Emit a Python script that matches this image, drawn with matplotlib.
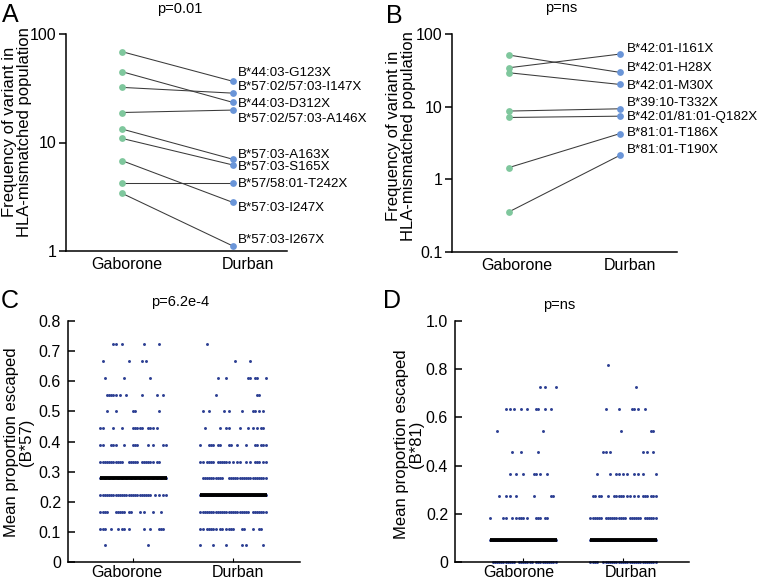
import matplotlib
matplotlib.use('Agg')
import matplotlib.pyplot as plt
from matplotlib.ticker import FixedLocator, NullLocator, FixedFormatter

plt.rcParams['font.family'] = ['Liberation Sans', 'DejaVu Sans']

groups = ['Gaborone', 'Durban']

# ---------------- Panel A data ----------------
variants_A = ['B*44:03-G123X', 'B*57:02/57:03-I147X', 'B*44:03-D312X',
              'B*57:02/57:03-A146X', 'B*57:03-A163X', 'B*57:03-S165X',
              'B*57/58:01-T242X', 'B*57:03-I247X', 'B*57:03-I267X']
gab_A = [68.7, 32.2, 44.9, 18.9, 13.3, 10.9, 4.2, 6.8, 3.4]
dur_A = [36.6, 28.5, 23.4, 19.9, 7.0, 6.2, 4.2, 2.8, 1.11]
label_y_A = [44, 32.2, 22.4, 16.3, 7.75, 5.96, 4.18, 2.51, 1.27]

# ---------------- Panel B data ----------------
variants_B = ['B*42:01-I161X', 'B*42:01-H28X', 'B*42:01-M30X', 'B*39:10-T332X',
              'B*42:01/81:01-Q182X', 'B*81:01-T186X', 'B*81:01-T190X']
gab_B = [34.3, 51.3, 29.3, 8.7, 7.1, 1.45, 0.356]
dur_B = [53, 29.6, 20.2, 9.35, 7.4, 4.27, 2.15]
label_y_B = [61.4, 33.6, 19.2, 11.3, 7.1, 4.28, 2.52]

# ---------------- Panel C data (levels k/18) ----------------
levels_C = [13, 12, 11, 10, 9, 8, 7, 6, 5, 4, 3, 2, 1]
denom_C = 18
slots_C_gab = [
    [6, 7, 10, 20, 27],
    [1, 13, 19, 21],
    [2, 11, 23],
    [3, 4, 5, 6, 7, 9, 12, 19, 26, 29],
    [3, 7, 15, 16, 27],
    [0, 1, 6, 10, 15, 16, 17, 18, 19, 22, 23, 24, 26],
    [0, 1, 5, 6, 7, 11, 15, 16, 17, 22, 24, 29, 30],
    [0, 1, 2, 3, 4, 5, 6, 7, 8, 9, 10, 13, 14, 15, 16, 17, 19, 20, 21, 22, 23, 24, 26, 27],
    [0, 2, 4, 6, 8, 10, 12, 14, 16, 18, 20, 22, 24, 26, 28, 30],
    [0, 1, 2, 3, 4, 5, 6, 7, 8, 9, 10, 11, 12, 13, 14, 15, 16, 17, 18, 19, 20, 21, 22, 23, 25, 27, 29, 30],
    [0, 1, 2, 3, 7, 8, 9, 10, 11, 13, 14, 18, 20, 24, 28],
    [0, 1, 2, 5, 8, 10, 11, 13, 20, 23, 27, 28, 29],
    [2, 22],
]
slots_C_dur = [
    [3],
    [16, 23],
    [8, 12, 22, 23, 25, 26, 30],
    [7, 26, 27],
    [1, 4, 11, 13, 19, 24, 25, 27, 29],
    [2, 9, 12, 13, 18, 22, 24, 26, 28, 29],
    [0, 4, 5, 6, 8, 9, 13, 14, 17, 21, 25, 26, 28, 29, 30],
    [0, 1, 3, 4, 5, 6, 8, 9, 10, 11, 12, 13, 15, 17, 18, 21, 23, 25, 26, 27, 29, 30],
    [1, 2, 3, 4, 5, 6, 7, 8, 9, 10, 13, 14, 15, 16, 17, 18, 19, 20, 21, 22, 23, 24, 25, 26, 27, 28, 29, 30],
    list(range(0, 31)),
    list(range(0, 23)) + list(range(24, 31)),
    [0, 1, 3, 4, 5, 6, 7, 9, 10, 12, 13, 14, 15, 19, 20, 24, 27, 28],
    [0, 6, 12, 19, 21, 29],
]
means_C = [5 / 18, 4 / 18]

# ---------------- Panel D data (levels k/11) ----------------
levels_D_gab = [8, 7, 6, 5, 4, 3, 2, 1, 0]
slots_D_gab = [
    [23, 25, 30],
    [7, 9, 11, 14, 17, 21, 22, 25, 28],
    [3, 24],
    [10, 14, 22],
    [9, 12, 15, 20, 21, 23, 26],
    [4, 7, 9, 12, 20, 28, 29],
    [0, 6, 7, 10, 12, 13, 14, 15, 17, 21, 22, 23, 25, 26],
    list(range(0, 31)),
    [s for s in range(1, 31) if s not in (12, 20)],
]
levels_D_dur = [9, 8, 7, 6, 5, 4, 3, 2, 1, 0]
slots_D_dur = [
    [8],
    [21],
    [7, 13, 19, 20, 22, 25],
    [14, 28, 29],
    [6, 7, 9, 24, 26, 29],
    [3, 9, 12, 13, 15, 17, 20, 22, 24, 30],
    [1, 2, 4, 5, 8, 11, 12, 13, 14, 15, 17, 18, 20, 22, 24, 25, 26, 28, 29, 30],
    list(range(0, 6)) + list(range(7, 17)) + list(range(18, 24)) + list(range(25, 31)),
    list(range(0, 31)),
    [s for s in range(0, 31) if s not in (4, 5)],
]
denom_D = 11
means_D = [1 / 11, 1 / 11]

# ---------------- Figure ----------------
W, H = 768, 580
fig = plt.figure(figsize=(W / 100, H / 100), dpi=100)

def px_axes(l, r, t, b):
    return fig.add_axes([l / W, 1 - b / H, (r - l) / W, (b - t) / H])

GREEN = '#7fc79d'
BLUE = '#6a95d8'
DOT = '#2c3f93'
TICK_FS = 11.5
LW = 1.1

def style(ax):
    for s in ['top', 'right']:
        ax.spines[s].set_visible(False)
    for s in ['left', 'bottom']:
        ax.spines[s].set_linewidth(LW)

def paired(ax, gab, dur, names, label_y, lab_x, xticks, ylim, yticks, yticklabels):
    for g, d in zip(gab, dur):
        ax.plot([1, 2], [g, d], color='#3a3a3a', lw=0.75, zorder=1)
    ax.scatter([1] * len(gab), gab, s=24, color=GREEN, zorder=3, linewidths=0)
    ax.scatter([2] * len(dur), dur, s=24, color=BLUE, zorder=3, linewidths=0)
    for n, y in zip(names, label_y):
        ax.text(lab_x, y, n, fontsize=9.6, va='center', ha='left', clip_on=False)
    ax.set_yscale('log')
    ax.set_ylim(*ylim)
    ax.yaxis.set_major_locator(FixedLocator(yticks))
    ax.yaxis.set_major_formatter(FixedFormatter(yticklabels))
    ax.yaxis.set_minor_locator(NullLocator())
    ax.set_xticks(xticks)
    ax.set_xticklabels(groups, fontsize=TICK_FS)
    ax.tick_params(axis='x', length=0, pad=4)
    ax.tick_params(axis='y', direction='out', length=5, width=LW, labelsize=TICK_FS, pad=2)
    style(ax)

# Panel A
axA = px_axes(66, 287, 34, 251)
axA.set_xlim(0.495, 2.486)
paired(axA, gab_A, dur_A, variants_A, label_y_A, 2.045, [1.045, 2.13],
       (1, 100), [1, 10, 100], ['1', '10', '100'])

# Panel B
axB = px_axes(452, 677, 34, 252)
axB.set_xlim(0.49, 2.51)
paired(axB, gab_B, dur_B, variants_B, label_y_B, 2.063, [1.07, 2.09],
       (0.1, 100), [0.1, 1, 10, 100], ['0.1', '1', '10', '100'])

SLOT = 0.0217

def dots(ax, center, levels, slots, denom):
    xs, ys = [], []
    for k, row in zip(levels, slots):
        for s in row:
            xs.append(center + (s - 15) * SLOT)
            ys.append(k / denom)
    ax.scatter(xs, ys, s=4.5, color=DOT, linewidths=0, zorder=2, clip_on=False)

def escape_panel(ax, means, label_x, ylim, yticks, yticklabels):
    for c, m in zip([1, 2], means):
        ax.hlines(m, c - 0.335, c + 0.335, color='black', lw=2.8, zorder=3)
    ax.set_ylim(*ylim)
    ax.set_yticks(yticks)
    ax.set_yticklabels(yticklabels)
    ax.set_xticks(label_x)
    ax.set_xticklabels(groups, fontsize=TICK_FS)
    ax.xaxis.set_minor_locator(FixedLocator([1, 2]))
    ax.tick_params(axis='x', which='major', length=0, pad=2)
    ax.tick_params(axis='x', which='minor', direction='in', length=3, width=0.8)
    ax.tick_params(axis='y', direction='in', length=5, width=LW, labelsize=TICK_FS, pad=5)
    style(ax)

# Panel C
axC = px_axes(68, 300, 321, 562)
axC.set_xlim(0.35, 2.67)
dots(axC, 1, levels_C, slots_C_gab, denom_C)
dots(axC, 2, levels_C, slots_C_dur, denom_C)
escape_panel(axC, means_C, [0.94, 2.05], (0, 0.8),
             [0, 0.1, 0.2, 0.3, 0.4, 0.5, 0.6, 0.7, 0.8],
             ['0', '0.1', '0.2', '0.3', '0.4', '0.5', '0.6', '0.7', '0.8'])

# Panel D
axD = px_axes(455, 689, 321, 562)
axD.set_xlim(0.32, 2.66)
dots(axD, 1, levels_D_gab, slots_D_gab, denom_D)
dots(axD, 2, levels_D_dur, slots_D_dur, denom_D)
escape_panel(axD, means_D, [0.96, 2.08], (0, 1.0),
             [0, 0.2, 0.4, 0.6, 0.8, 1.0],
             ['0', '0.2', '0.4', '0.6', '0.8', '1.0'])

# y labels
def ylabel(x, y, txt):
    fig.text(x / W, 1 - y / H, txt, rotation=90, ha='center', va='center',
             fontsize=12, linespacing=0.95, multialignment='center')

ylabel(17, 132, 'Frequency of variant in\nHLA-mismatched population')
ylabel(401, 136, 'Frequency of variant in\nHLA-mismatched population')
ylabel(19, 442, 'Mean proportion escaped\n(B*57)')
ylabel(409, 444, 'Mean proportion escaped\n(B*81)')

# titles
for x, y, t in [(180, 9, 'p=0.01'), (561, 8, 'p=ns'), (180, 302, 'p=6.2e-4'), (559, 305, 'p=ns')]:
    fig.text(x / W, 1 - y / H, t, ha='center', va='center', fontsize=10.5)

# panel letters
for x, y, t in [(2, 3, 'A'), (386, 4, 'B'), (1, 289, 'C'), (383, 289, 'D')]:
    fig.text(x / W, 1 - y / H, t, ha='left', va='top', fontsize=18)

fig.savefig('out.png', dpi=100)
